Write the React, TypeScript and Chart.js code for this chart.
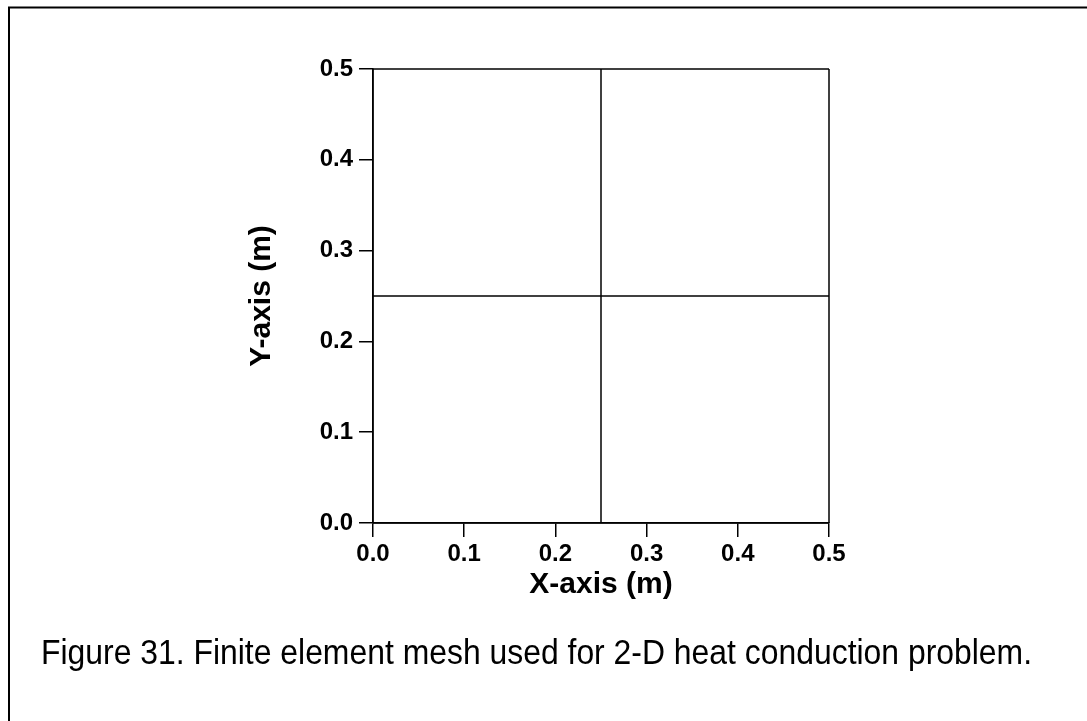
import React, { useEffect, useRef } from "react";
import { Chart, registerables } from "chart.js";

Chart.register(...registerables);

// Mesh node coordinates (m)
const xNodes = [0, 0.25, 0.5];
const yNodes = [0, 0.25, 0.5];
// Axis ticks
const xTicks = [0, 0.1, 0.2, 0.3, 0.4, 0.5];
const yTicks = [0, 0.1, 0.2, 0.3, 0.4, 0.5];
const xTitle = "X-axis (m)";
const yTitle = "Y-axis (m)";
const caption = "Figure 31. Finite element mesh used for 2-D heat conduction problem.";

const W = 1087;
const H = 721;
const AREA = { left: 373, right: 829, top: 69, bottom: 523 };

const decorPlugin = {
  id: "decor",
  afterDraw(chart: any) {
    const ctx = chart.ctx;
    const ca = chart.chartArea;
    ctx.save();
    // outer frame
    ctx.strokeStyle = "#000";
    ctx.lineWidth = 2;
    ctx.strokeRect(9, 7.5, 2000, 2000);
    // axis titles
    ctx.fillStyle = "#000";
    ctx.font = "bold 30px 'Liberation Sans', Arial, sans-serif";
    ctx.textAlign = "center";
    ctx.textBaseline = "middle";
    ctx.fillText(xTitle, (ca.left + ca.right) / 2, 585, 146);
    ctx.save();
    ctx.translate(262, (ca.top + ca.bottom) / 2);
    ctx.rotate(-Math.PI / 2);
    ctx.fillText(yTitle, 0, 0, 146);
    ctx.restore();
    // caption
    ctx.textAlign = "left";
    ctx.font = "35px 'Liberation Sans', Arial, sans-serif";
    ctx.fillText(caption, 41, 654, 991);
    ctx.restore();
  },
};

export default function App() {
  const ref = useRef<HTMLCanvasElement | null>(null);
  useEffect(() => {
    if (!ref.current) return;
    const xMin = xNodes[0];
    const xMax = xNodes[xNodes.length - 1];
    const yMin = yNodes[0];
    const yMax = yNodes[yNodes.length - 1];
    const datasets: any[] = [];
    yNodes.forEach((y) => {
      datasets.push({
        data: [
          { x: xMin, y },
          { x: xMax, y },
        ],
      });
    });
    xNodes.forEach((x) => {
      datasets.push({
        data: [
          { x, y: yMin },
          { x, y: yMax },
        ],
      });
    });
    datasets.forEach((d) => {
      d.showLine = true;
      d.borderColor = "#000";
      d.borderWidth = 1.5;
      d.pointRadius = 0;
      d.fill = false;
      d.clip = false;
    });
    const tickFont = { family: "'Liberation Sans', Arial, sans-serif", size: 24, weight: "bold" as const };
    const chart = new Chart(ref.current, {
      type: "scatter",
      data: { datasets },
      options: {
        responsive: false,
        animation: false,
        devicePixelRatio: 1,
        layout: { padding: { left: 0, top: AREA.top, right: W - AREA.right, bottom: 0 } },
        plugins: { legend: { display: false }, tooltip: { enabled: false }, title: { display: false } },
        scales: {
          x: {
            type: "linear",
            min: xTicks[0],
            max: xTicks[xTicks.length - 1],
            afterFit(scale: any) {
              scale.height = H - AREA.bottom;
            },
            afterBuildTicks(scale: any) {
              scale.ticks = xTicks.map((v) => ({ value: v }));
            },
            ticks: {
              color: "#000",
              font: tickFont,
              padding: 3,
              maxRotation: 0,
              autoSkip: false,
              callback: (v: any) => Number(v).toFixed(1),
            },
            grid: { drawOnChartArea: false, drawTicks: true, tickLength: 14, color: "#000", lineWidth: 1.5 },
            border: { display: true, color: "#000", width: 1.5 },
          },
          y: {
            type: "linear",
            min: yTicks[0],
            max: yTicks[yTicks.length - 1],
            afterFit(scale: any) {
              scale.width = AREA.left;
            },
            afterBuildTicks(scale: any) {
              scale.ticks = yTicks.map((v) => ({ value: v }));
            },
            ticks: {
              color: "#000",
              font: tickFont,
              padding: 6,
              autoSkip: false,
              callback: (v: any) => Number(v).toFixed(1),
            },
            grid: { drawOnChartArea: false, drawTicks: true, tickLength: 14, color: "#000", lineWidth: 1.5 },
            border: { display: true, color: "#000", width: 1.5 },
          },
        },
      },
      plugins: [decorPlugin],
    });
    return () => chart.destroy();
  }, []);
  return (
    <div style={{ position: "absolute", left: 0, top: 0, width: W, height: H, background: "#fff" }}>
      <canvas ref={ref} width={W} height={H} style={{ width: W, height: H, display: "block" }} />
    </div>
  );
}
